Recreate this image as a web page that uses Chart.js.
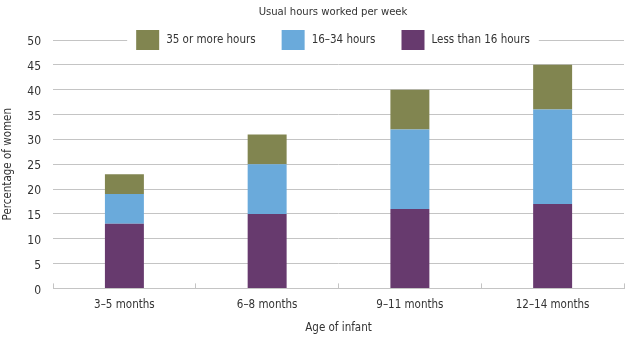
<!DOCTYPE html>
<html>
<head>
<meta charset="utf-8">
<script src="https://cdn.jsdelivr.net/npm/chart.js@4.4.0/dist/chart.umd.min.js"></script>
<style>
  html, body { margin: 0; padding: 0; background: #fff; }
  #wrap { width: 626px; height: 340px; }
</style>
</head>
<body>
<div id="wrap"><canvas id="chart"></canvas></div>
<script>
const ageGroups = ["3–5 months", "6–8 months", "9–11 months", "12–14 months"];
const lessThan16 = [13, 15, 16, 17];
const hours16to34 = [6, 10, 16, 19];
const hours35plus = [4, 6, 8, 9];

const fontFamily = '"DejaVu Sans Condensed", sans-serif';
const textColor = "#333333";
const gridColor = "#c4c4c4";

// title + legend sit on top of the 50 gridline, with a white box behind
const headerPlugin = {
    id: 'header',
    afterDraw(chart) {
        const ctx = chart.ctx;
        const cx = 333;
        const lineY = chart.chartArea.top;
        ctx.save();
        ctx.font = '11.2px ' + fontFamily;
        ctx.fillStyle = textColor;
        ctx.textAlign = 'center';
        ctx.textBaseline = 'middle';
        ctx.fillText('Usual hours worked per week', cx, lineY - 28);

        const items = chart.data.datasets.slice().reverse();
        const boxW = 23, boxH = 20, gap = 7, itemGap = 26;
        ctx.font = '11.5px ' + fontFamily;
        let total = 0;
        const widths = items.map(ds => ctx.measureText(ds.label).width);
        widths.forEach((w, i) => { total += boxW + gap + w + (i < items.length - 1 ? itemGap : 0); });
        let x = cx - total / 2;
        ctx.fillStyle = '#fff';
        ctx.fillRect(x - 9, lineY - boxH / 2 - 1, total + 18, boxH + 2);
        ctx.textAlign = 'left';
        items.forEach((ds, i) => {
            ctx.fillStyle = ds.backgroundColor;
            ctx.fillRect(x, lineY - boxH / 2, boxW, boxH);
            ctx.fillStyle = textColor;
            ctx.fillText(ds.label, x + boxW + gap, lineY);
            x += boxW + gap + widths[i] + itemGap;
        });
        ctx.restore();
    }
};

new Chart(document.getElementById('chart'), {
    type: 'bar',
    data: {
        labels: ageGroups,
        datasets: [
            { label: 'Less than 16 hours', data: lessThan16, backgroundColor: '#673a6e' },
            { label: '16–34 hours', data: hours16to34, backgroundColor: '#6aaadb' },
            { label: '35 or more hours', data: hours35plus, backgroundColor: '#818550' },
        ],
    },
    options: {
        responsive: true,
        maintainAspectRatio: false,
        animation: false,
        layout: { padding: { top: 40, right: 2, left: 1.5, bottom: 5 } },
        datasets: { bar: { barPercentage: 0.273, categoryPercentage: 1, borderWidth: 0 } },
        plugins: {
            legend: { display: false },
            tooltip: { enabled: false },
        },
        scales: {
            x: {
                stacked: true,
                grid: { offset: true, drawOnChartArea: false, drawTicks: true, tickLength: -5, color: gridColor },
                border: { display: true, color: gridColor },
                ticks: { color: textColor, font: { family: fontFamily, size: 11.5 }, padding: 15 },
                title: { display: true, text: 'Age of infant', color: textColor, font: { family: fontFamily, size: 11.5 }, padding: { top: -6, bottom: 0 } },
            },
            y: {
                stacked: true,
                min: 0,
                max: 50,
                grid: { drawTicks: false, color: gridColor },
                border: { display: false },
                ticks: { stepSize: 5, color: textColor, font: { family: fontFamily, size: 12 }, padding: 12, labelOffset: 2 },
                title: { display: true, text: 'Percentage of women', color: textColor, font: { family: fontFamily, size: 11.5 }, padding: { top: 0, bottom: 0 } },
            },
        },
    },
    plugins: [headerPlugin],
});
</script>
</body>
</html>
